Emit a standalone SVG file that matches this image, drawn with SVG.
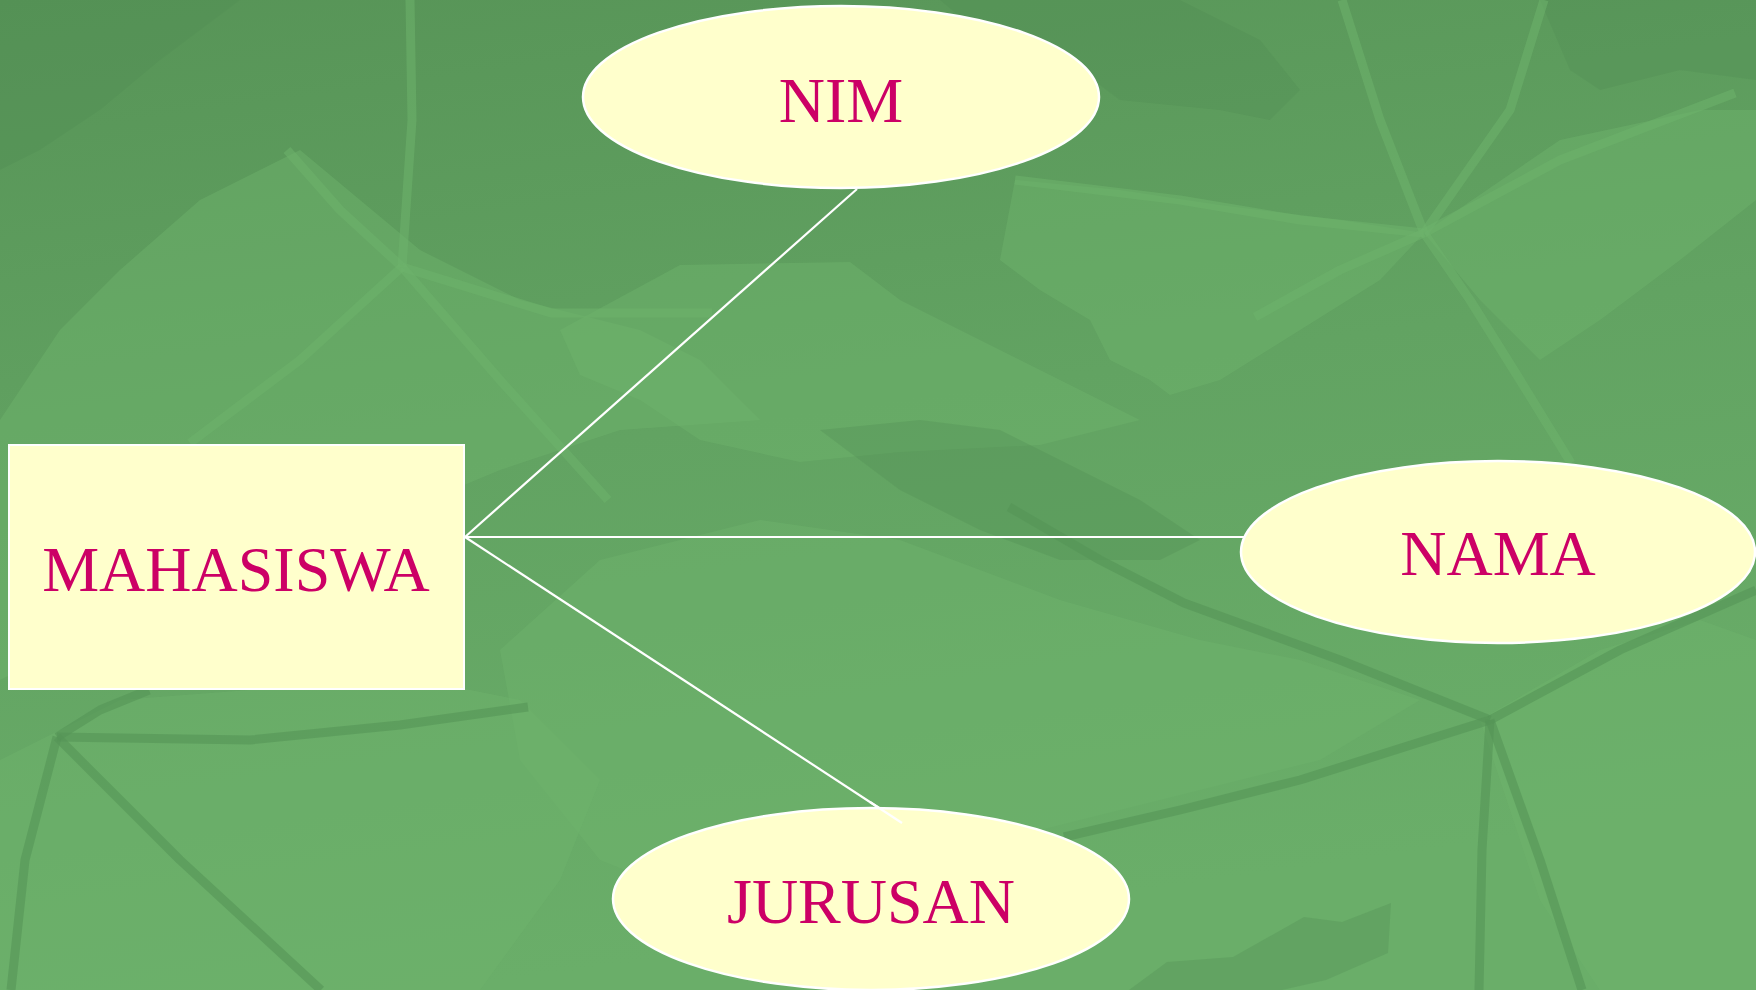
<svg xmlns="http://www.w3.org/2000/svg" width="1756" height="990" viewBox="0 0 1756 990">
  <defs>
    <linearGradient id="bg" x1="0" y1="0" x2="0.25" y2="1">
      <stop offset="0" stop-color="#579457"/>
      <stop offset="0.5" stop-color="#62a362"/>
      <stop offset="1" stop-color="#6aae69"/>
    </linearGradient>
    <style>
      .blade { fill: #6fb36d; opacity: 0.45; }
      .shade { fill: #4f8a52; opacity: 0.3; }
      .vein { fill: none; stroke: #6db26c; stroke-width: 9; stroke-linecap: butt; stroke-linejoin: round; opacity: 0.55; }
      .vein-dark { fill: none; stroke: #559457; stroke-width: 9; stroke-linecap: butt; stroke-linejoin: round; opacity: 0.6; }
      .entity { fill: #ffffcc; stroke: #ffffff; stroke-width: 2; }
      .attr { fill: #ffffcc; stroke: #ffffff; stroke-width: 2.5; }
      .label { font-family: "Liberation Serif", "Times New Roman", serif; font-size: 64px; fill: #cc0066; text-anchor: middle; }
      .link { stroke: #ffffff; stroke-width: 2.2; fill: none; }
    </style>
  </defs>

  <!-- backdrop: leafy green field -->
  <g id="backdrop">
    <rect x="0" y="0" width="1756" height="990" fill="url(#bg)"/>
    <!-- broad leaf blades -->
    <polygon class="blade" points="0,420 60,330 120,270 200,200 300,150 420,250 520,300 640,330 700,360 760,420 620,430 500,470 380,520 260,560 120,620 0,680"/>
    <polygon class="blade" points="560,330 680,265 850,262 900,300 1000,350 1060,380 1140,420 1040,445 900,452 800,462 700,440 640,400 580,375"/>
    <polygon class="blade" points="1015,180 1120,190 1220,205 1340,220 1424,233 1380,280 1300,330 1220,380 1170,395 1150,380 1110,360 1090,320 1040,290 1000,260"/>
    <polygon class="blade" points="1424,233 1560,140 1700,110 1756,110 1756,200 1680,260 1600,320 1540,360 1480,300"/>
    <polygon class="blade" points="600,560 760,520 900,540 1060,600 1200,640 1300,660 1420,700 1320,760 1160,800 1000,840 860,880 700,900 600,860 520,760 500,650"/>
    <polygon class="blade" points="0,760 120,700 250,690 420,680 520,700 600,780 560,880 480,990 0,990"/>
    <polygon class="blade" points="1480,720 1600,650 1700,620 1756,640 1756,990 1600,990 1540,900"/>
    <!-- darker shadowed patches -->
    <polygon class="shade" points="940,0 1180,0 1260,40 1300,90 1270,120 1220,110 1120,100 1080,70 1000,50"/>
    <polygon class="shade" points="1540,0 1756,0 1756,80 1680,70 1600,90 1570,70"/>
    <polygon class="shade" points="0,0 240,0 160,60 100,110 40,150 0,170"/>
    <polygon class="shade" points="1167,962 1233,957 1304,917 1342,922 1391,903 1388,953 1326,980 1282,990 1129,990"/>
    <polygon class="shade" points="820,430 920,420 1000,430 1060,460 1140,500 1200,540 1160,560 1060,560 980,530 900,490"/>
    <!-- veins of the upper-left plant -->
    <polyline class="vein" points="410,0 412,120 402,267"/>
    <polyline class="vein" points="287,150 340,210 402,267"/>
    <polyline class="vein" points="402,267 551,313 712,313"/>
    <polyline class="vein" points="402,267 500,380 608,500"/>
    <polyline class="vein" points="402,267 300,360 190,443"/>
    <!-- veins of the upper-right plant -->
    <polyline class="vein" points="1342,0 1380,120 1424,233"/>
    <polyline class="vein" points="1544,0 1510,110 1424,233"/>
    <polyline class="vein" points="1424,233 1560,160 1735,93"/>
    <polyline class="vein" points="1015,180 1180,200 1300,220 1424,233"/>
    <polyline class="vein" points="1424,233 1470,300 1520,380 1571,463"/>
    <polyline class="vein" points="1424,233 1340,270 1255,317"/>
    <!-- veins of the lower-left plant -->
    <polyline class="vein-dark" points="57,737 250,740 400,725 528,707"/>
    <polyline class="vein-dark" points="57,737 180,860 321,990"/>
    <polyline class="vein-dark" points="57,737 25,860 11,990"/>
    <polyline class="vein-dark" points="57,737 100,710 149,690"/>
    <!-- veins of the lower-right plant -->
    <polyline class="vein-dark" points="1009,507 1100,560 1184,603 1340,660 1490,720"/>
    <polyline class="vein-dark" points="1490,720 1300,780 1180,810 1064,837"/>
    <polyline class="vein-dark" points="1490,720 1482,850 1479,990"/>
    <polyline class="vein-dark" points="1490,720 1540,860 1582,990"/>
    <polyline class="vein-dark" points="1490,720 1620,650 1756,590"/>
  </g>

  <!-- relationships between the entity and its attributes -->
  <g id="connectors">
    <line class="link" x1="465" y1="537" x2="857" y2="189"/>
    <line class="link" x1="465" y1="537" x2="1246" y2="537"/>
    <line class="link" x1="465" y1="537" x2="902" y2="823"/>
  </g>

  <g id="node-mahasiswa">
    <rect class="entity" x="9" y="445" width="455" height="244"/>
    <text class="label" x="236" y="591">MAHASISWA</text>
  </g>

  <g id="node-nim">
    <ellipse class="attr" cx="841" cy="97" rx="258" ry="91"/>
    <text class="label" x="841" y="122">NIM</text>
  </g>

  <g id="node-nama">
    <ellipse class="attr" cx="1498" cy="552" rx="257" ry="91"/>
    <text class="label" x="1498" y="575">NAMA</text>
  </g>

  <g id="node-jurusan">
    <ellipse class="attr" cx="871" cy="899" rx="258" ry="91"/>
    <text class="label" x="871" y="923">JURUSAN</text>
  </g>

  <!-- the JURUSAN link runs slightly over its ellipse -->
  <line class="link" x1="870" y1="802" x2="902" y2="823"/>
</svg>
